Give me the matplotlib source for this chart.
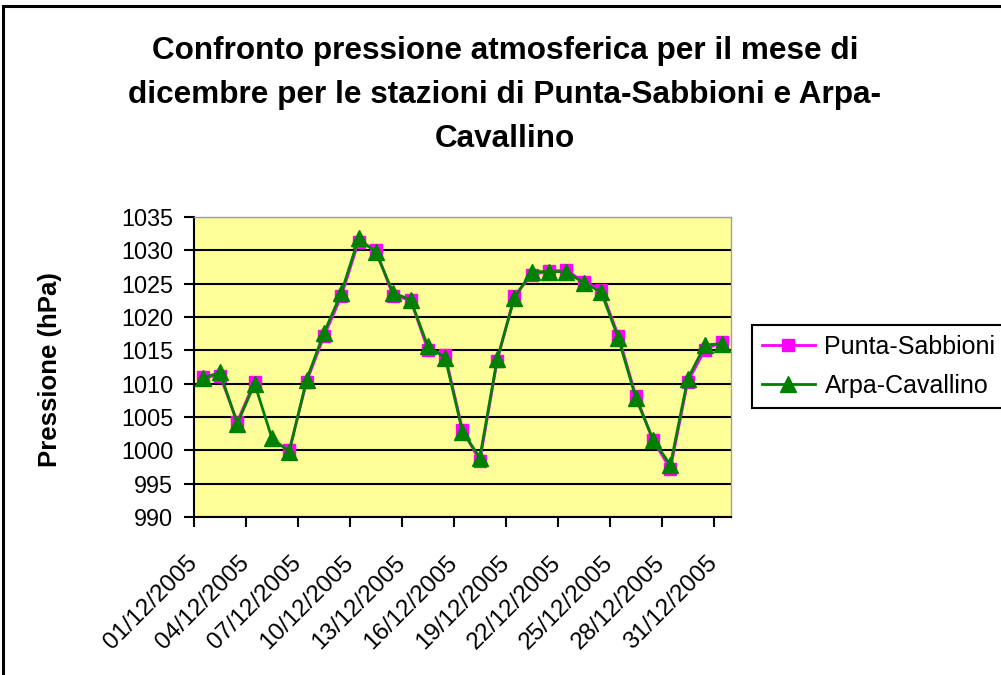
import numpy as np
import matplotlib
matplotlib.use("Agg")
import matplotlib.pyplot as plt
from matplotlib.patches import Rectangle

plt.rcParams['font.family'] = ['Liberation Sans', 'DejaVu Sans']

# Daily mean pressure (hPa), December 2005
days = list(range(1, 32))
punta_sabbioni = [1011.0, 1011.2, 1004.3, 1010.3, np.nan, 1000.0, 1010.3, 1017.1,
                  1023.1, 1031.3, 1030.1, 1023.1, 1022.6, 1015.1, 1014.3, 1003.1,
                  998.4, 1013.4, 1023.2, 1026.3, 1026.9, 1027.0, 1025.3, 1024.1,
                  1017.2, 1008.2, 1001.5, 997.2, 1010.3, 1015.1, 1016.3]
arpa_cavallino = [1010.8, 1011.7, 1004.0, 1010.0, 1001.8, 999.8, 1010.6, 1017.6,
                  1023.6, 1031.8, 1029.7, 1023.6, 1022.6, 1015.6, 1013.9, 1002.8,
                  998.9, 1013.7, 1022.9, 1026.8, 1026.8, 1026.8, 1025.1, 1023.8,
                  1016.8, 1007.9, 1001.6, 997.8, 1010.7, 1015.8, 1016.0]
tick_days = [1, 4, 7, 10, 13, 16, 19, 22, 25, 28, 31]
tick_labels = [f"{d:02d}/12/2005" for d in tick_days]
y_ticks = list(range(990, 1036, 5))

W, H = 1001, 675
fig = plt.figure(figsize=(W / 100, H / 100), dpi=100)

# chart-area frame
fig.patches.append(Rectangle((3 / W, -0.05), 1.2, 1 - 6 / H + 0.05,
                             transform=fig.transFigure, fill=False,
                             edgecolor='black', linewidth=2.2, zorder=0))

ax = fig.add_axes([194 / W, 1 - 517 / H, (731 - 194) / W, (517 - 217) / H])
ax.set_facecolor('#FFFF99')

# each day occupies a unit slot; points sit at slot centres
x = np.array(days) - 0.5
ax.plot(x, punta_sabbioni, color='#FF00FF', linewidth=2, marker='s',
        markersize=9, markerfacecolor='#FF00FF', markeredgecolor='#FF00FF',
        label='Punta-Sabbioni', zorder=3)
ax.plot(x, arpa_cavallino, color='#008000', linewidth=2, marker='^',
        markersize=11, markerfacecolor='#008000', markeredgecolor='#008000',
        label='Arpa-Cavallino', zorder=4)

ax.set_xlim(0, 31)
ax.set_ylim(990, 1035)
ax.set_yticks(y_ticks)
ax.set_yticklabels([str(v) for v in y_ticks], fontsize=16.8)
ax.set_xticks([d - 1 for d in tick_days])
ax.set_xticklabels(tick_labels, fontsize=17.5, rotation=45, ha='right',
                   va='center', rotation_mode='anchor')
ax.tick_params(axis='x', direction='out', length=7, width=1.5, pad=24)
ax.tick_params(axis='y', direction='out', length=7, width=1.5, pad=8)
ax.grid(axis='y', color='black', linewidth=1.5)
ax.set_axisbelow(True)

for side in ('top', 'right'):
    ax.spines[side].set_color('#A0A0A0')
    ax.spines[side].set_linewidth(1.0)
for side in ('left', 'bottom'):
    ax.spines[side].set_color('black')
    ax.spines[side].set_linewidth(1.5)

fig.text(50 / W, 1 - 370 / H, 'Pressione (hPa)', rotation=90,
         ha='center', va='center', fontsize=18.5, fontweight='bold')

fig.text(505 / W, 1 - 95 / H,
         "Confronto pressione atmosferica per il mese di\n"
         "dicembre per le stazioni di Punta-Sabbioni e Arpa-\n"
         "Cavallino",
         ha='center', va='center', fontsize=22.7, fontweight='bold',
         linespacing=1.6)

leg = fig.legend(loc='upper left', bbox_to_anchor=(752 / W, 1 - 325 / H),
                 fontsize=18, frameon=True, fancybox=False, framealpha=1,
                 edgecolor='black', handlelength=2.1, borderpad=0.4,
                 labelspacing=0.6, handletextpad=0.4, borderaxespad=0)
leg.get_frame().set_linewidth(1.5)

fig.savefig('out.png', dpi=100)
